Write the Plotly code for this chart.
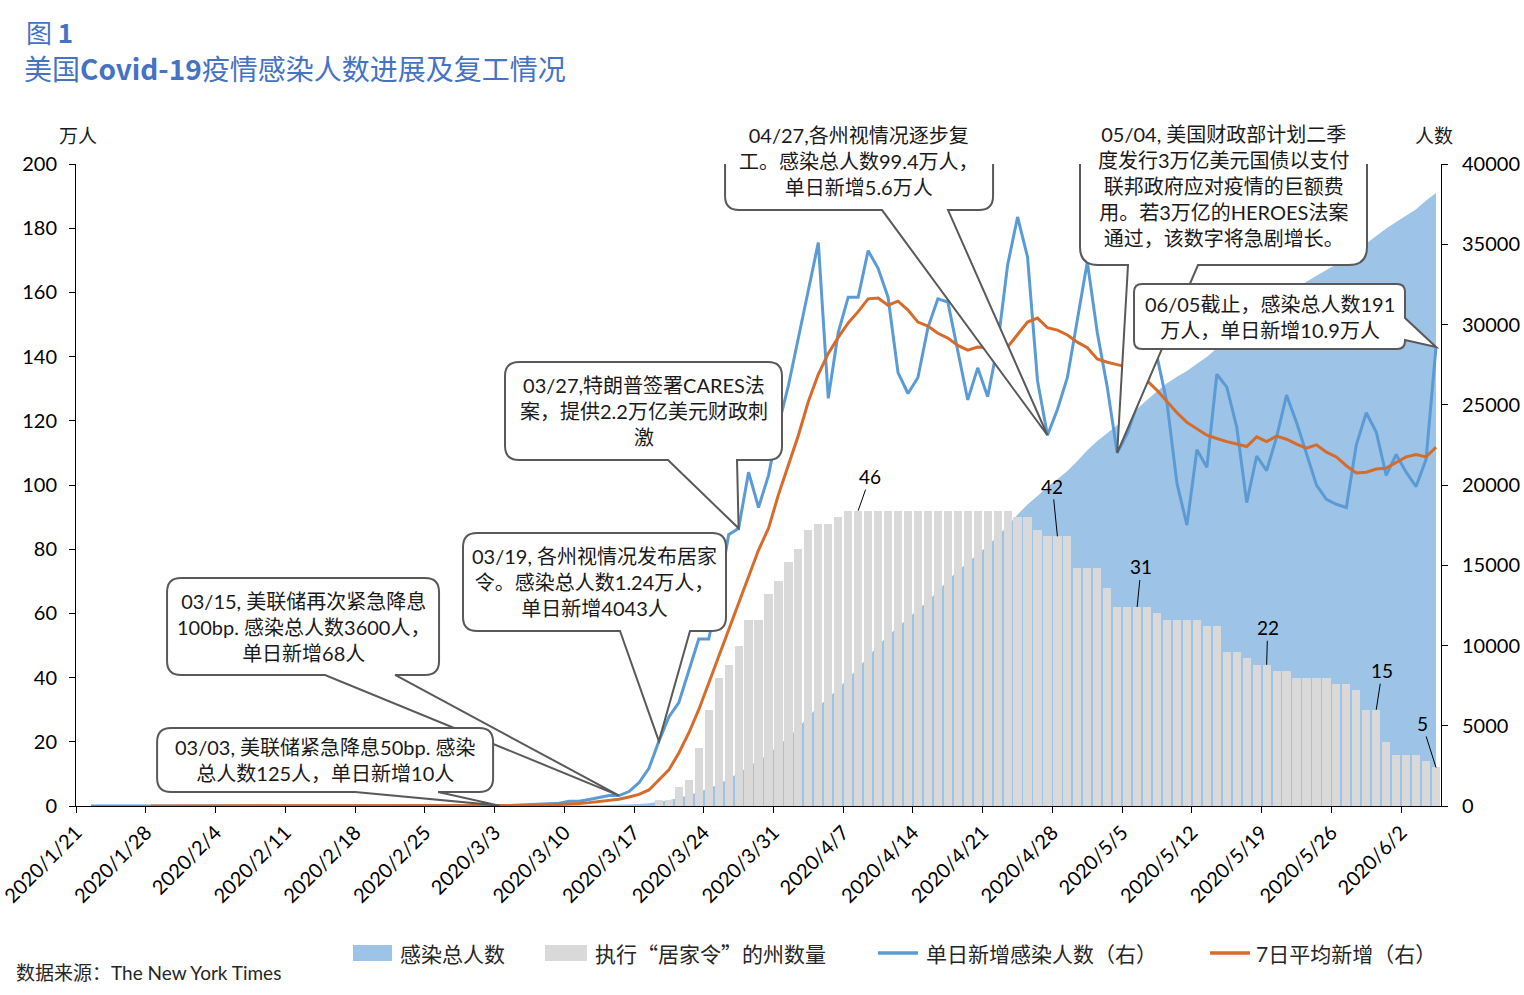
import pandas as pd
import plotly.graph_objects as go

# ---------------- data ----------------
dates = pd.date_range("2020-01-21", "2020-06-05", freq="D")
x_mid = dates + pd.Timedelta(hours=12)

# 感染总人数 (万人)
total_jan = [0.0001, 0.0001, 0.0001, 0.0002, 0.0003, 0.0005, 0.0005, 0.0005, 0.0005, 0.0006, 0.0007]
total_feb = [0.0008, 0.0009, 0.0011, 0.0011, 0.0012, 0.0012, 0.0012, 0.0012, 0.0012, 0.0012,
             0.0013, 0.0014, 0.0015, 0.0015, 0.0015, 0.0015, 0.0025, 0.0025, 0.0025, 0.0027,
             0.0035, 0.0035, 0.0035, 0.0051, 0.0053, 0.0057, 0.0060, 0.0062, 0.0068]
total_mar = [0.0076, 0.0101, 0.0125, 0.0161, 0.0227, 0.0319, 0.0435, 0.0554, 0.0728, 0.1018,
             0.1311, 0.1718, 0.2259, 0.2911, 0.36, 0.4643, 0.6359, 0.8557, 1.24, 1.83,
             2.46, 3.35, 4.37, 5.43, 6.79, 8.51, 10.3, 12.4, 14.1, 16.2, 18.8]
total_apr = [21.5, 24.4, 27.6, 31.1, 33.6, 36.6, 39.7, 43.0, 46.4, 50.0,
             53.0, 55.7, 58.3, 60.9, 63.9, 66.9, 70.3, 73.2, 75.8, 78.5,
             81.1, 84.0, 87.2, 90.8, 93.9, 96.6, 99.4, 101.8, 104.4, 107.5]
total_may = [110.8, 113.7, 116.3, 118.6, 121.0, 123.6, 126.5, 129.2, 131.7, 133.7,
             135.5, 137.8, 139.9, 142.6, 145.2, 147.6, 149.4, 151.6, 153.6, 155.9,
             158.5, 161.0, 163.3, 165.2, 166.9, 168.8, 170.6, 172.9, 175.3, 177.7, 179.9]
total_jun = [181.9, 183.9, 185.9, 188.6, 191.0]
total_cases = total_jan + total_feb + total_mar + total_apr + total_may + total_jun

# 执行“居家令”的州数量
states_before = [0] * 58
states_mar_apr = [1, 1, 3, 4, 9, 15, 20, 22, 25, 29, 29, 33, 35, 38, 40, 43, 44, 44, 45,
                  46, 46, 46, 46, 46, 46, 46, 46, 46, 46, 46, 46, 46, 46, 46, 46]
states_late = [46, 45, 45, 43, 42, 42, 42, 37, 37, 37, 34, 31, 31, 31, 31, 30, 29, 29, 29, 29,
               28, 28, 24, 24, 23, 22, 22, 21, 21, 20, 20, 20, 20, 19, 19, 18, 15, 15, 10,
               8, 8, 8, 7, 6]
stay_home_states = states_before + states_mar_apr + states_late

# 单日新增感染人数
daily_jan = [None, 1, 0, 1, 1, 2, 0, 0, 0, 1, 1]
daily_feb = [1, 1, 2, 0, 1, 0, 0, 0, 0, 0, 1, 1, 1, 0, 0, 0, 10, 0, 0, 2,
             8, 0, 0, 16, 2, 4, 3, 2, 6]
daily_mar = [8, 25, 24, 36, 66, 92, 116, 119, 174, 290, 293, 407, 541, 652, 650, 900, 1450,
             2350, 4043, 5550, 6450, 8450, 10400, 10400, 13300, 16900, 17300, 20800, 18600,
             20600, 23700]
daily_apr = [26200, 29200, 32300, 35100, 25400, 29500, 31700, 31700, 34600, 33500,
             31700, 27000, 25700, 26700, 29800, 31600, 31400, 28400, 25300, 27300,
             25500, 28700, 33700, 36700, 34200, 26500, 23100, 24700, 26700, 30300]
daily_may = [33900, 29500, 26100, 22000, 23200, 25000, 26700, 28000, 25100, 20100,
             17500, 22200, 21100, 26900, 26100, 23600, 18900, 21800, 20900, 23000,
             25600, 23900, 22000, 20000, 19100, 18800, 18600, 22500, 24500, 23300, 20600]
daily_jun = [21900, 20800, 19900, 21600, 28600]
daily_new = daily_jan + daily_feb + daily_mar + daily_apr + daily_may + daily_jun

# 7日平均新增
avg_jan = [None] * 7 + [1, 1, 1, 1]
avg_feb = [1, 1, 1, 1, 1, 1, 1, 1, 0, 0, 0, 0, 0, 0, 0, 0, 2, 2, 2, 2,
           3, 3, 3, 5, 4, 5, 5, 5, 6]
avg_mar = [6, 9, 10, 14, 21, 30, 41, 60, 80, 120, 160, 210, 280, 350, 420, 560, 720, 1000,
           1600, 2250, 3300, 4550, 6000, 7650, 9300, 11000, 12650, 14300, 15950, 17300, 19400]
avg_apr = [21250, 23100, 25200, 26900, 28200, 29200, 30100, 30800, 31600, 31650,
           31200, 31450, 30900, 30150, 29900, 29450, 29150, 28700, 28400, 28600,
           28550, 28600, 28600, 29350, 30150, 30400, 29800, 29650, 29350, 28900]
avg_may = [28550, 27850, 27650, 27500, 27350, 27000, 26500, 25900, 25200, 24500,
           23900, 23500, 23100, 22900, 22700, 22550, 22400, 23000, 22700, 23050,
           22850, 22550, 22300, 22500, 22050, 21750, 21200, 20750, 20800, 21000, 21050]
avg_jun = [21400, 21750, 21900, 21750, 22350]
avg7 = avg_jan + avg_feb + avg_mar + avg_apr + avg_may + avg_jun

tick_dates = ["2020-01-21", "2020-01-28", "2020-02-04", "2020-02-11", "2020-02-18",
              "2020-02-25", "2020-03-03", "2020-03-10", "2020-03-17", "2020-03-24",
              "2020-03-31", "2020-04-07", "2020-04-14", "2020-04-21", "2020-04-28",
              "2020-05-05", "2020-05-12", "2020-05-19", "2020-05-26", "2020-06-02"]
tick_labels = ["2020/1/21", "2020/1/28", "2020/2/4", "2020/2/11", "2020/2/18",
               "2020/2/25", "2020/3/3", "2020/3/10", "2020/3/17", "2020/3/24",
               "2020/3/31", "2020/4/7", "2020/4/14", "2020/4/21", "2020/4/28",
               "2020/5/5", "2020/5/12", "2020/5/19", "2020/5/26", "2020/6/2"]

# bar data labels: (date, text)
bar_label_dates = ["2020-04-08", "2020-04-28", "2020-05-06", "2020-05-19", "2020-05-30", "2020-06-05"]
bar_label_texts = ["46", "42", "31", "22", "15", "5"]

# ---------------- layout geometry ----------------
W, H = 1524, 995
L, R, T, B = 76, 83, 164, 189
PW, PH = W - L - R, H - T - B
N = len(dates)
Y3MAX = 40000

def px_x(i):
    return L + (i + 0.5) * PW / N

def px_y3(v):
    return T + PH - v * PH / Y3MAX

def paper_x(px):
    return (px - L) / PW

def paper_y(py):
    return (T + PH - py) / PH

def idx(d):
    return int((pd.Timestamp(d) - dates[0]).days)

CJK = "Lato, 'Noto Sans CJK SC', sans-serif"
CJK_ONLY = "'Noto Sans CJK SC', sans-serif"
BLUE = "#5b9bd5"
ORANGE = "#d66b2a"
AREA = "#9dc3e6"
GRAY = "#d9d9d9"

fig = go.Figure()
fig.add_trace(go.Scatter(x=x_mid, y=total_cases, name="感染总人数", mode="lines",
                         line=dict(width=0, color=AREA), fill="tozeroy", fillcolor=AREA,
                         yaxis="y", showlegend=False, hoverinfo="skip"))
fig.add_trace(go.Bar(x=x_mid, y=stay_home_states, name="执行“居家令”的州数量",
                     marker=dict(color=GRAY, line=dict(width=0)), width=0.82 * 86400000,
                     yaxis="y2", showlegend=False))
fig.add_trace(go.Scatter(x=x_mid, y=daily_new, name="单日新增感染人数（右）", mode="lines",
                         line=dict(color=BLUE, width=3), yaxis="y3", showlegend=False))
fig.add_trace(go.Scatter(x=x_mid, y=avg7, name="7日平均新增（右）", mode="lines",
                         line=dict(color=ORANGE, width=3), yaxis="y3", showlegend=False))

# ---------------- callouts ----------------
def callout_path(box, tip, wedge, side="bottom", r=14):
    x0, y0, x1, y1 = box
    tx, ty = tip

    def P(x, y):
        return f"{x - tx:.1f},{ty - y:.1f}"

    parts = [f"M{P(x0 + r, y0)}", f"L{P(x1 - r, y0)}", f"Q{P(x1, y0)} {P(x1, y0 + r)}"]
    if side == "right":
        a, b = wedge
        parts += [f"L{P(x1, a)}", f"L{P(tx, ty)}", f"L{P(x1, b)}"]
    parts += [f"L{P(x1, y1 - r)}", f"Q{P(x1, y1)} {P(x1 - r, y1)}"]
    if side == "bottom":
        a, b = wedge
        parts += [f"L{P(b, y1)}", f"L{P(tx, ty)}", f"L{P(a, y1)}"]
    parts += [f"L{P(x0 + r, y1)}", f"Q{P(x0, y1)} {P(x0, y1 - r)}",
              f"L{P(x0, y0 + r)}", f"Q{P(x0, y0)} {P(x0 + r, y0)}", "Z"]
    return " ".join(parts)

callouts = [
    ("2020-03-15", (167, 578, 439, 675), (325, 395), "bottom", 14,
     "03/15, 美联储再次紧急降息<br>100bp. 感染总人数3600人，<br>单日新增68人"),
    ("2020-03-03", (157, 728, 493, 792), (355, 438), "bottom", 14,
     "03/03, 美联储紧急降息50bp. 感染<br>总人数125人，单日新增10人"),
    ("2020-03-19", (463, 533, 726, 631), (620, 690), "bottom", 14,
     "03/19, 各州视情况发布居家<br>令。感染总人数1.24万人，<br>单日新增4043人"),
    ("2020-03-27", (505, 362, 782, 460), (668, 737), "bottom", 14,
     "03/27,特朗普签署CARES法<br>案，提供2.2万亿美元财政刺<br>激"),
    ("2020-04-27", (725, 113, 993, 210), (882, 948), "bottom", 14,
     "04/27,各州视情况逐步复<br>工。感染总人数99.4万人，<br>单日新增5.6万人"),
    ("2020-05-04", (1080, 107, 1367, 265), (1128, 1198), "bottom", 18,
     "05/04, 美国财政部计划二季<br>度发行3万亿美元国债以支付<br>联邦政府应对疫情的巨额费<br>用。若3万亿的HEROES法案<br>通过，该数字将急剧增长。"),
    ("2020-06-05", (1134, 284, 1405, 349), (318, 340), "right", 8,
     "06/05截止，感染总人数191<br>万人，单日新增10.9万人"),
]

shapes = []
annotations = []
for d, box, wedge, side, r, text in callouts:
    i = idx(d)
    v = daily_new[i]
    tip = (px_x(i), px_y3(v))
    shapes.append(dict(type="path", xref="x", yref="y3", xsizemode="pixel", ysizemode="pixel",
                       xanchor=str(x_mid[i]), yanchor=v,
                       path=callout_path(box, tip, wedge, side, r),
                       fillcolor="white", line=dict(color="#595959", width=2), layer="above"))
    cx = (box[0] + box[2]) / 2
    cy = (box[1] + box[3]) / 2
    annotations.append(dict(xref="paper", yref="paper", x=paper_x(cx), y=paper_y(cy),
                            text=text, showarrow=False, align="center",
                            xanchor="center", yanchor="middle",
                            font=dict(family=CJK, size=20, color="#1a1a1a")))

# bar data labels with leader lines
label_offsets = [(12, -34), (-5, -50), (4, -40), (1, -37), (6, -39), (-14, -44)]
for d, t, (ax, ay) in zip(bar_label_dates, bar_label_texts, label_offsets):
    i = idx(d)
    annotations.append(dict(xref="x", yref="y2", x=str(x_mid[i]), y=stay_home_states[i],
                            text=t, showarrow=True, arrowhead=0, arrowwidth=1,
                            arrowcolor="#000000", ax=ax, ay=ay, standoff=0,
                            font=dict(family=CJK, size=19, color="#000000")))

# titles and texts
annotations += [
    dict(xref="paper", yref="paper", x=paper_x(24), y=paper_y(31), text="图 <b>1</b>",
         showarrow=False, xanchor="left", yanchor="middle",
         font=dict(family=CJK_ONLY, size=26, color="#4472c4")),
    dict(xref="paper", yref="paper", x=paper_x(22), y=paper_y(68),
         text="美国<b>Covid-19</b>疫情感染人数进展及复工情况",
         showarrow=False, xanchor="left", yanchor="middle",
         font=dict(family=CJK_ONLY, size=28, color="#4472c4")),
    dict(xref="paper", yref="paper", x=paper_x(78), y=paper_y(135), text="万人",
         showarrow=False, xanchor="center", yanchor="middle",
         font=dict(family=CJK, size=19, color="#1a1a1a")),
    dict(xref="paper", yref="paper", x=paper_x(1434), y=paper_y(135), text="人数",
         showarrow=False, xanchor="center", yanchor="middle",
         font=dict(family=CJK, size=19, color="#1a1a1a")),
    dict(xref="paper", yref="paper", x=paper_x(14), y=paper_y(972),
         text="数据来源：The New York Times", showarrow=False,
         xanchor="left", yanchor="middle",
         font=dict(family=CJK, size=19, color="#262626")),
]

# custom legend
legend_items = [
    ("rect", AREA, 353, 392, 398, "感染总人数", CJK),
    ("rect", GRAY, 545, 587, 593, "执行“居家令”的州数量", CJK_ONLY),
    ("line", BLUE, 878, 918, 924, "单日新增感染人数（右）", CJK),
    ("line", ORANGE, 1210, 1250, 1254, "7日平均新增（右）", CJK),
]
LEG_Y = 953
for kind, color, sx0, sx1, tx, text, fam in legend_items:
    if kind == "rect":
        shapes.append(dict(type="rect", xref="paper", yref="paper",
                           x0=paper_x(sx0), x1=paper_x(sx1),
                           y0=paper_y(LEG_Y + 8), y1=paper_y(LEG_Y - 8),
                           fillcolor=color, line=dict(width=0), layer="above"))
    else:
        shapes.append(dict(type="line", xref="paper", yref="paper",
                           x0=paper_x(sx0), x1=paper_x(sx1),
                           y0=paper_y(LEG_Y), y1=paper_y(LEG_Y),
                           line=dict(color=color, width=3.5), layer="above"))
    annotations.append(dict(xref="paper", yref="paper", x=paper_x(tx), y=paper_y(LEG_Y),
                            text=text, showarrow=False, xanchor="left", yanchor="middle",
                            font=dict(family=fam, size=21, color="#262626")))

tickfont = dict(family="Lato, 'Noto Sans', sans-serif", size=20, color="#000000")
fig.update_layout(
    width=W, height=H,
    margin=dict(l=L, r=R, t=T, b=B, pad=0, autoexpand=False),
    paper_bgcolor="white", plot_bgcolor="white",
    showlegend=False,
    bargap=0,
    xaxis=dict(type="date",
               range=[dates[0] - pd.Timedelta(minutes=10), dates[-1] + pd.Timedelta(days=1)],
               tickvals=tick_dates, ticktext=tick_labels, tickangle=-45,
               ticks="outside", ticklen=6, tickcolor="#000000", tickwidth=1,
               showline=True, linecolor="#000000", linewidth=1, automargin=False,
               ticklabeloverflow="allow",
               showgrid=False, zeroline=False, tickfont=tickfont),
    yaxis=dict(range=[0, 200], dtick=20, tick0=0, ticks="outside", ticklen=6,
               tickcolor="#000000", showline=True, linecolor="#000000", linewidth=1,
               automargin=False, ticklabeloverflow="allow",
               showgrid=False, zeroline=False, tickfont=tickfont, ticklabelstandoff=8),
    yaxis2=dict(range=[0, 100], overlaying="y", visible=False, showgrid=False,
                automargin=False),
    yaxis3=dict(range=[0, Y3MAX], dtick=5000, tick0=0, overlaying="y", side="right",
                anchor="x", ticks="outside", ticklen=6, tickcolor="#000000",
                showline=True, linecolor="#000000", linewidth=1, tickformat="d",
                automargin=False, ticklabeloverflow="allow",
                showgrid=False, zeroline=False, tickfont=tickfont, ticklabelstandoff=10),
    shapes=shapes,
    annotations=annotations,
)

fig.write_html("out.html", config={"displayModeBar": False},
               post_script="document.body.style.margin='0px';document.body.style.overflow='hidden';")
